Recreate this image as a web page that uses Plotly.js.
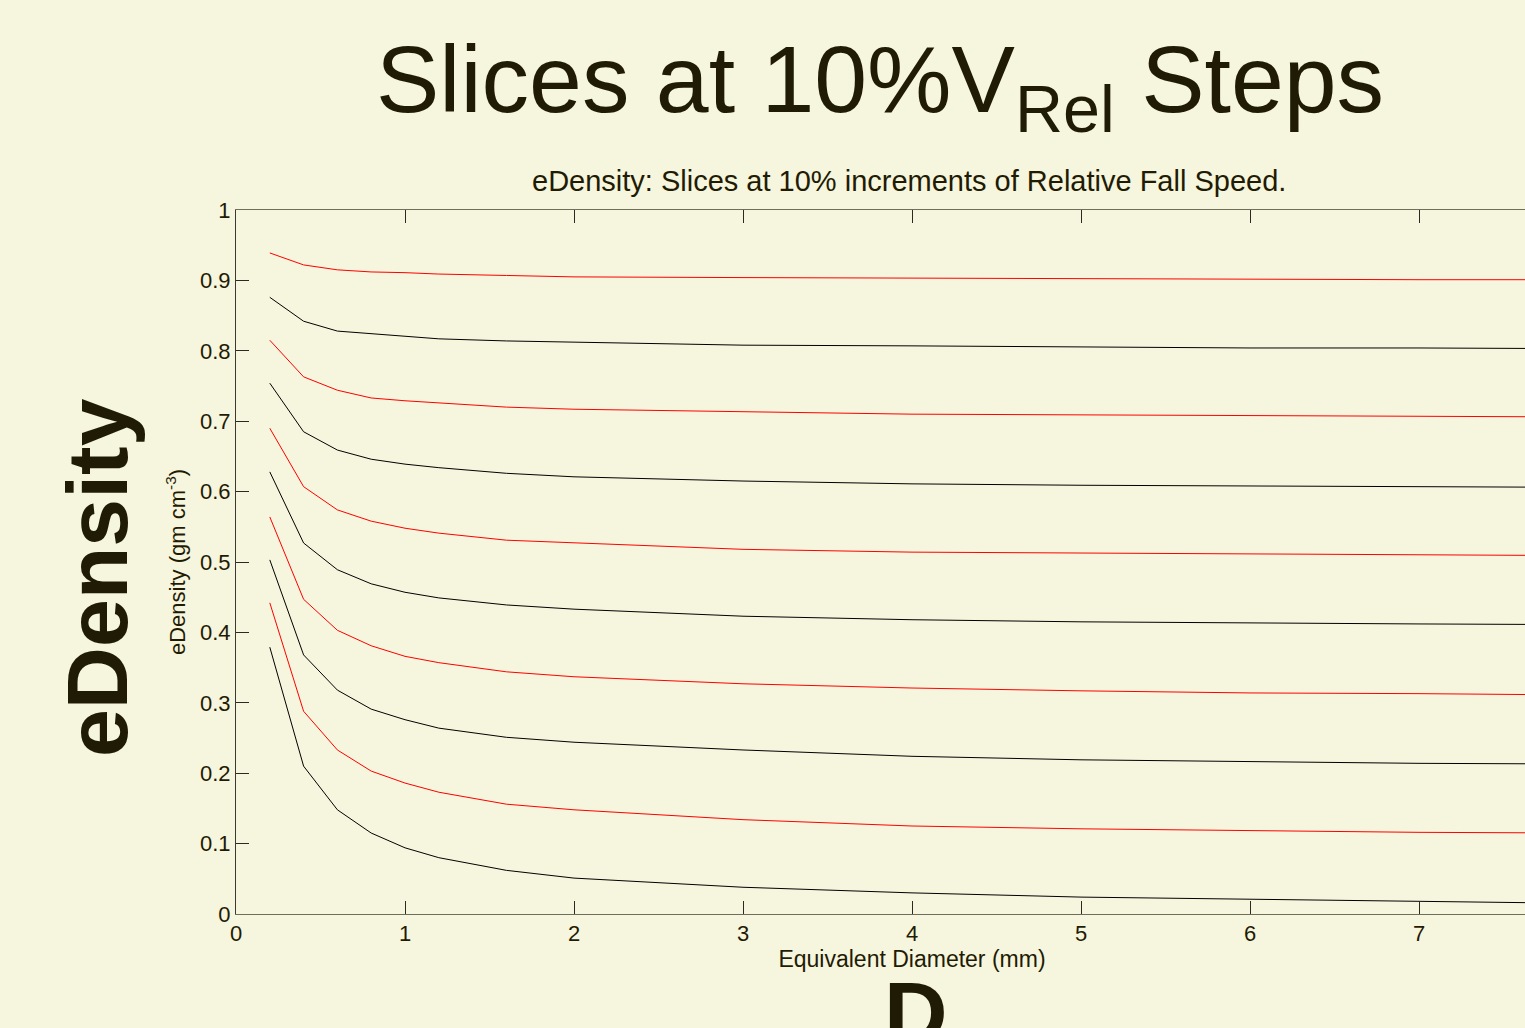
<!DOCTYPE html>
<html>
<head>
<meta charset="utf-8">
<script src="https://cdn.plot.ly/plotly-3.0.1.min.js"></script>
<style>
html,body{margin:0;padding:0;overflow:hidden;background:#F6F5DD;}
#chart{width:1650px;height:1028px;}
</style>
</head>
<body>
<div id="chart"></div>
<script>
// Equivalent diameter (mm)
const diameter = [0.2, 0.4, 0.6, 0.8, 1.0, 1.2, 1.6, 2, 3, 4, 5, 6, 7, 8];

// eDensity slices at 10% increments of relative fall speed (bottom to top)
const slice1  = [0.379, 0.210, 0.148, 0.115, 0.094, 0.080, 0.062, 0.051, 0.038, 0.030, 0.024, 0.021, 0.018, 0.015];
const slice2  = [0.442, 0.288, 0.233, 0.203, 0.186, 0.173, 0.156, 0.148, 0.134, 0.125, 0.121, 0.118, 0.116, 0.115];
const slice3  = [0.503, 0.368, 0.318, 0.291, 0.276, 0.264, 0.251, 0.244, 0.233, 0.224, 0.219, 0.216, 0.214, 0.213];
const slice4  = [0.564, 0.447, 0.403, 0.381, 0.366, 0.357, 0.344, 0.337, 0.327, 0.321, 0.317, 0.314, 0.313, 0.311];
const slice5  = [0.628, 0.527, 0.489, 0.469, 0.457, 0.449, 0.439, 0.433, 0.423, 0.418, 0.415, 0.413, 0.412, 0.411];
const slice6  = [0.690, 0.607, 0.574, 0.558, 0.548, 0.541, 0.531, 0.527, 0.518, 0.514, 0.513, 0.511, 0.510, 0.509];
const slice7  = [0.754, 0.685, 0.659, 0.646, 0.639, 0.634, 0.626, 0.621, 0.615, 0.611, 0.609, 0.608, 0.607, 0.606];
const slice8  = [0.815, 0.763, 0.744, 0.733, 0.729, 0.726, 0.720, 0.717, 0.713, 0.710, 0.709, 0.708, 0.707, 0.706];
const slice9  = [0.876, 0.842, 0.828, 0.824, 0.820, 0.817, 0.814, 0.812, 0.808, 0.807, 0.805, 0.804, 0.804, 0.803];
const slice10 = [0.939, 0.922, 0.915, 0.912, 0.911, 0.909, 0.907, 0.905, 0.904, 0.903, 0.902, 0.902, 0.901, 0.901];

const slices = [slice1, slice2, slice3, slice4, slice5, slice6, slice7, slice8, slice9, slice10];
const lineColors = ['#000000', '#FF0000'];

const xTicks = [0, 1, 2, 3, 4, 5, 6, 7, 8];
const yTicks = [0, 0.1, 0.2, 0.3, 0.4, 0.5, 0.6, 0.7, 0.8, 0.9, 1];
const yTickText = ['0', '0.1', '0.2', '0.3', '0.4', '0.5', '0.6', '0.7', '0.8', '0.9', '1'];

const textColor = '#1F1B04';
const bg = '#F6F5DD';
const font = '"Liberation Sans", Arial, sans-serif';

const traces = slices.map((s, i) => ({
  x: diameter, y: s, type: 'scatter', mode: 'lines',
  line: {color: lineColors[i % 2], width: 1},
  hoverinfo: 'skip', showlegend: false
}));

const layout = {
  width: 1650, height: 1028,
  paper_bgcolor: bg, plot_bgcolor: bg,
  margin: {l: 236, r: 62, t: 210, b: 114},
  font: {family: font, color: textColor},
  showlegend: false,
  xaxis: {
    range: [0, 8], tickvals: xTicks, ticktext: xTicks.map(String),
    ticks: 'inside', ticklen: 13, tickcolor: '#2a2a20', tickwidth: 1,
    showline: true, linecolor: '#6e6e5a', linewidth: 1, mirror: 'allticks',
    showgrid: false, zeroline: false,
    tickfont: {size: 22, color: textColor, family: font},
    title: {text: 'Equivalent Diameter (mm)', font: {size: 23, color: textColor, family: font}, standoff: 5}
  },
  yaxis: {
    range: [0, 1], tickvals: yTicks, ticktext: yTickText,
    ticks: 'inside', ticklen: 13, tickcolor: '#2a2a20', tickwidth: 1,
    showline: true, linecolor: '#3a3a2e', linewidth: 1, mirror: 'allticks',
    showgrid: false, zeroline: false,
    tickfont: {size: 22, color: textColor, family: font},
    title: {text: 'eDensity (gm cm<sup>-3</sup>)', font: {size: 22, color: textColor, family: font}, standoff: 8}
  },
  annotations: [
    {text: 'Slices at 10%V<sub>Rel</sub> Steps', xref: 'paper', yref: 'paper',
     x: (880 - 236) / 1352, y: (914 - 86) / 704, xanchor: 'center', yanchor: 'middle', showarrow: false,
     font: {size: 95, color: textColor, family: font}},
    {text: 'eDensity: Slices at 10% increments of Relative Fall Speed.', xref: 'paper', yref: 'paper',
     x: (909 - 236) / 1352, y: (914 - 181) / 704, xanchor: 'center', yanchor: 'middle', showarrow: false,
     font: {size: 29, color: textColor, family: font}},
    {text: '<b>eDensity</b>', xref: 'paper', yref: 'paper',
     x: (97 - 236) / 1352, y: (914 - 578) / 704, xanchor: 'center', yanchor: 'middle', showarrow: false,
     textangle: -90,
     font: {size: 86, color: textColor, family: font}},
    {text: '<b>D</b>', xref: 'paper', yref: 'paper',
     x: (916 - 236) / 1352, y: (914 - 1012) / 704, xanchor: 'center', yanchor: 'middle', showarrow: false,
     font: {size: 88, color: textColor, family: font}}
  ]
};

Plotly.newPlot('chart', traces, layout, {displayModeBar: false, staticPlot: true});
</script>
</body>
</html>
